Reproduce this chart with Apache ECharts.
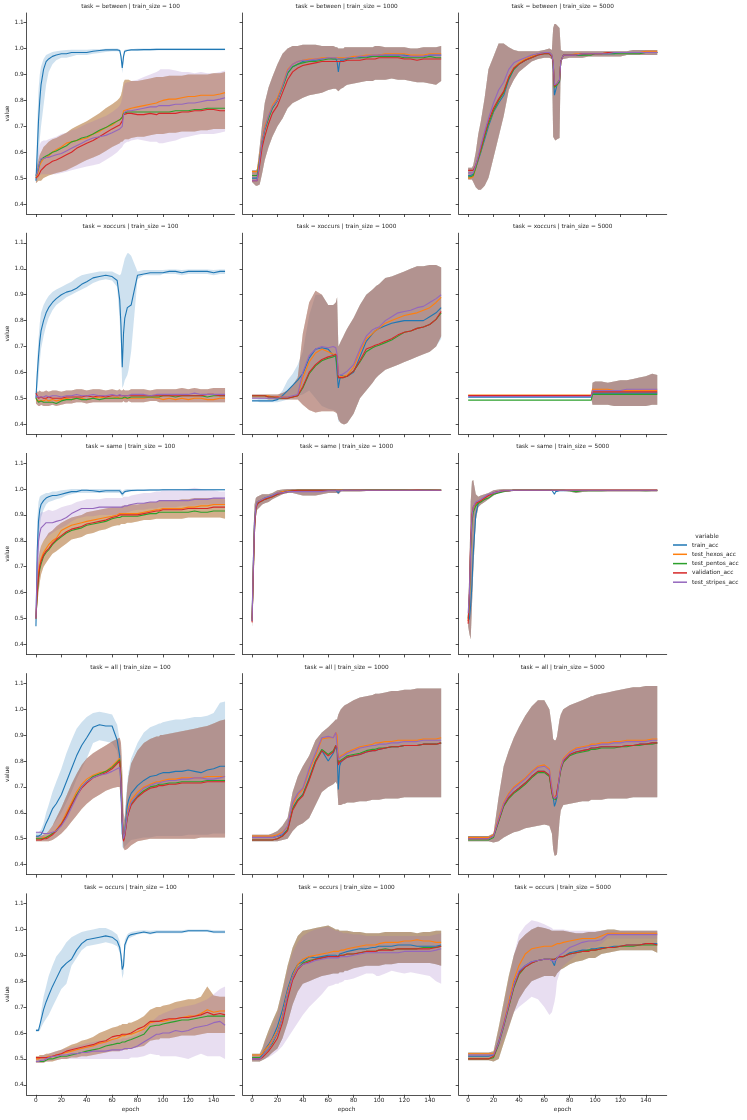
<!DOCTYPE html>
<html><head><meta charset="utf-8">
<script src="https://cdn.jsdelivr.net/npm/echarts@6/dist/echarts.min.js"></script>
<style>html,body{margin:0;padding:0;background:#fff}#c{width:747px;height:1120px}</style>
</head><body><div id="c"></div>
<script>
// ---------- shared scales / labels ----------
const EPOCHS = [0,1,2,3,4, 6,8,10, 13,16,20,24,28,32,36,40, 45,50,55,60, 64,66,67,68,69,70, 72,73,75, 80,85,90,95, 97,98,100, 105,110,115,120,125,130,135,140,145,149];
const X_TICKS = [0,20,40,60,80,100,120,140];
const Y_TICKS = [0.4,0.5,0.6,0.7,0.8,0.9,1.0,1.1];
const TASKS = ['between','xoccurs','same','all','occurs'];
const TRAIN_SIZES = [100,1000,5000];
const VARIABLES = ['train_acc','test_hexos_acc','test_pentos_acc','validation_acc','test_stripes_acc'];
const COLORS = ['#1f77b4','#ff7f0e','#2ca02c','#d62728','#9467bd'];

// ---------- values (accuracy, percent) ----------
// task = between, train_size = 100
const between_100_train = [49,60,72,80,86, 92,95,96, 97,97.5,98,98,98.5,98.5,98.5,98.5, 99,99.3,99.5,99.5, 99.5,99.3,97,92.5,97,99, 99.3,99.5,99.5, 99.5,99.6,99.6,99.7, 99.7,99.7,99.7, 99.7,99.7,99.7,99.7,99.7,99.7,99.7,99.7,99.7,99.7];
const between_100_trainLo = [48,52,58,65,70, 78,86,91, 94,95.5,96.5,96.5,97,97.5,97.5,97.5, 98,98.3,98.7,99, 99,98.8,95.5,90.5,95,98.5, 99,99.2,99.3, 99.3,99.3,99.3,99.3, 99.4,99.4,99.4, 99.4,99.4,99.4,99.4,99.4,99.4,99.4,99.4,99.4,99.4];
const between_100_trainHi = [50,70,84,90,93, 96,97.5,98, 98.7,99,99.3,99.5,99.6,99.6,99.6,99.6, 99.8,99.8,99.9,100, 100,99.8,98.5,94.5,98.8,99.6, 99.8,99.8,99.8, 100,100,100,100, 100,100,100, 100,100,100,100,100,100,100,100,100,100];
const between_100_hexos = [50,51,53,55,56, 57.5,58,58.5, 60,61,62,63.5,64,64.5,65,65.5, 67,68,69.5,70.5, 72,72.5,73,73.5,76,76.5, 76.5,77,77, 77.5,78,78.5,79, 79.5,79.5,80, 80.5,80.5,81,81.5,81.5,82,82,82,82.5,83];
const between_100_pentos = [51,52,54,56,57, 58,58.5,59, 60,60.5,61.5,62.5,64,64.5,65.5,66, 67,68.5,69.5,71, 72,72.5,73,73.5,75,75.5, 75.5,75.5,75.5, 75.5,75.5,75.5,75.5, 75.5,75.5,75.5, 75.5,76,76,76,76.5,76.5,77,77,77,77];
const between_100_val = [50,50.5,51,52,53, 54,55,55.5, 56.5,57,58,59,60,61.5,62.5,63.5, 64.5,66,67.5,69, 70,70.5,71,72,74.5,75, 75,75,75, 74.5,74.5,75,74.5, 75,75,75, 75,75,75.5,75.5,76,76,76.5,76.5,76,76];
const between_100_stripes = [51,52,54,56,57.5, 57.5,58,58, 58.5,59,59.5,60.5,61.5,62.5,63.5,64.5, 65.5,66,66.5,67.5, 68.5,69,69.5,70,74.5,75.5, 76,76,76, 76.5,77,77.5,77.5, 78,78,78, 78,78.5,78.5,79,79,79.5,80,80,80.5,81];
const between_100_testLo = [48,48.5,49,49,49, 50,50.5,51, 51.5,52,52.5,53,54,55,56,57, 58,59,60.5,62, 63,63.5,64,64,64.5,65, 65,65,65.5, 66,66,66.5,67, 67,67,67, 67.5,67.5,68,68,68,68.5,68.5,69,69,69];
const between_100_testHi = [52,55,57,59,60, 62,63,64, 65,65.5,66.5,67.5,69,70,71,72, 73.5,75,77,78.5, 80,81,82,84,87,88, 88,88,87.5, 87.5,88,88.5,89, 89,89,89, 89.5,89.5,89.5,90,90,90,90,90.5,90.5,91];
const between_100_stripesLo = [48,49,50,51,51.5, 51.5,51.5,51.5, 51.5,51.5,52,52.5,53,53.5,54,54.5, 55,55.5,57,58.5, 60,61,61.5,62,63,63.5, 64,64,64.5, 65,64.5,64,64, 63.5,63.5,63.5, 64,64.5,65.5,66,66.5,67,67,67,67.5,68];
const between_100_stripesHi = [53,56,60,63,64, 64.5,64.5,65, 65.5,66,67,67.5,68.5,69,70,71, 72,73,74,75.5, 77,78,79,81,85,86.5, 87,87,87.5, 88,89,90,91, 91.5,92,92, 92,91.5,91,91,90.5,91,90.5,90.5,91,91.5];

// task = between, train_size = 1000
const between_1000_train = [50,50,50,50,50, 57,64,69, 73.5,77,80,85.5,90.5,93,94,95, 95.5,95.5,96,96.5, 96,96,95,91,94.5,95.5, 95.5,95.5,96, 96.5,96.5,97,97, 97,97,97.5, 97.5,97.5,97.5,97.5,97,97,97,97.5,97.5,97.5];
const between_1000_hexos = [52.5,52.5,52.5,52.5,52.5, 58,65,70, 74,78,81,86,92,94,95,95.5, 96,96,96.5,96.5, 96.5,96.5,96.5,96.5,96.5,96.5, 96.5,96.5,96.5, 97,97,97.5,97.5, 97.5,97.5,97.5, 98,98,98,98,97.5,97.5,97.5,98,98,98];
const between_1000_pentos = [51,51,51,51,51, 57,64,68.5, 73,77,80,85,90.5,93,94,94.5, 95,95,95.5,96, 96,96,96,96,96,96, 96,96,96, 96.5,96.5,96.5,97, 97,97,97, 97,97,97,96.5,96.5,96.5,96.5,97,96.5,96.5];
const between_1000_val = [49,49,49,49,49, 55,62,66, 71,75,78,83,88,91,92.5,93.5, 94,94.5,95,95, 95,95,95,95,95,95, 95,95,95.5, 95.5,95.5,96,96, 96,96,96.5, 96.5,96.5,96.5,96,96,95.5,96,96,96,96];
const between_1000_stripes = [49,49,49,49,49, 57,64.5,69, 74,77.5,80,85.5,91.5,94,95,95.5, 95.5,96,96,96.5, 96.5,96.5,96,96,96,96, 96,96.5,96.5, 96.5,97,97,97.5, 97.5,97.5,97.5, 97.5,97.5,97.5,97,97,97,97,97.5,97.5,97.5];
const between_1000_testLo = [48.5,48,47.5,47,47, 47.5,52,57, 62,66,70,73,77,79,80,81, 82,82.5,83,84, 84.5,84.5,84,83.5,84,84.5, 85,85.5,86, 86.5,87,87.5,87.5, 88,88,88, 88,88.5,88,88,87.5,87,87,86.5,86,87.5];
const between_1000_testHi = [53,53,53,53,53.5, 62,71,79, 85,89,94,98,100,101,101,101.5, 101.5,101.5,101,101, 101,100.5,100.5,100,100,100, 100,100.5,100.5, 100.5,100.5,100.5,100.5, 101,101,101, 100.5,100.5,100.5,100.5,100,100,100.5,100.5,100.5,101];

// task = between, train_size = 5000
const between_5000_train = [51,51,51,51,51.5, 54,57,60, 65,70,75.5,79,82,88,92,94, 95.5,97,98,98.5, 98.5,97.5,94,82,84,86, 87,95,97.5, 97.5,97.5,97.5,98, 98,98,98, 98,98,98,98.5,98.5,98.5,98.5,98.5,98.5,98.5];
const between_5000_hexos = [50,50,50,50,50.5, 54,57.5,60.5, 66,71,76,80,83,89,92.5,94.5, 96,97,98,98.5, 98.5,97.5,95,85,85,86, 87.5,95,97.5, 97.5,98,98,98, 98,98,98, 98,98.5,98.5,98.5,98.5,98.5,98.5,99,99,99];
const between_5000_pentos = [50.5,50.5,50.5,50.5,51, 54,57.5,60.5, 66,71,76,80,83,88.5,92,94, 95.5,96.5,97.5,98, 98,97,94.5,85,85,86, 87.5,95,97.5, 97.5,97.5,97.5,97.5, 97.5,98,98, 98,98,98,98,98,98,98,98.5,98.5,98.5];
const between_5000_val = [53,53,53,53,53, 55,58,61.5, 67,72,77,80.5,83.5,89,92.5,94, 95.5,96.5,97.5,98, 98,97,94.5,85.5,85.5,86.5, 88,95,97.5, 97.5,97.5,98,98, 98,98,98, 98,98.5,98.5,98.5,98.5,98.5,98.5,98.5,98.5,98.5];
const between_5000_stripes = [52,52,52,52,52, 55,58.5,62.5, 68,73,79,84,87,92,94.5,95.5, 96.5,97.5,98,98.5, 98.5,97.5,95,86,86,86.5, 88,95,97.5, 97.5,97.5,98,98, 98,98,98, 98,98,98.5,98.5,98.5,98.5,98.5,98.5,98.5,98.5];
const between_5000_testLo = [49.5,49.5,49.5,49.5,48.5, 46.5,45.5,45.5, 47,50,58,66,74,84,88,91, 93,95,96,96.5, 96.5,96,66,65,64.5,65, 65.5,96,96, 96.5,96.5,96.5,97, 97,97,97, 97,97,97,97,97.5,97.5,97.5,97.5,97.5,97.5];
const between_5000_testHi = [54,54,54,54,55, 60,67,72, 81,92,97,102,102,100.5,99.5,99, 99,99,99,99.5, 100,99.5,108,109.5,109.5,109, 108,99.5,99, 99,99,99,99, 99,99,99, 99,99,99,99,99,99.5,99.5,99.5,99.5,99.5];

// task = xoccurs, train_size = 100
const xoccurs_100_train = [50,59,66,72,76, 80,83,85, 87,88.5,90,91,91.5,92.5,94,95, 96.5,97,97.5,97, 95.5,88,78,62,75,81, 85,85.5,86, 97.5,98,98.5,98.5, 98.5,98.5,98.5, 99,99,98.5,99,99,99,99,98.5,99,99];
const xoccurs_100_trainLo = [49,53,58,64,69, 74,78,81, 84,86,87.5,89,90,91,92,93, 94.5,95.5,96,95.5, 93,80,70,54,55,57, 59,61,68, 96,97.5,97.5,97.5, 97.5,97.5,98, 98,98,97.5,98,98,98,98,97.5,98,98];
const xoccurs_100_trainHi = [51,65,73,79,83, 86,88,89.5, 91,92,93,94,95,96.5,97.5,98, 98.5,99,99,99, 98,97.5,98,100,102,104, 106,106,105, 99,99.5,99.5,99.5, 99.5,99.5,99.5, 99.7,99.7,99.5,99.7,99.7,99.7,99.7,99.5,99.7,99.7];
const xoccurs_100_hexos = [50,49,48.5,49,49.5, 49,49.5,49, 49.5,49,49.5,50,49.5,50,50,49.5, 50,50.5,50,50, 50.5,50,50,50,50.5,50, 50,50.5,50, 50,50,50.5,50, 50,50,49.5, 50,49.5,50,49.5,50,50,49.5,49.5,50,50];
const xoccurs_100_pentos = [50,49.5,48.5,48.5,49, 48.5,48.5,48.5, 48.5,48,49,49.5,49.5,50,49.5,49.5, 50,49.5,50,50, 50,50,50.5,50,50,50.5, 50,50,50.5, 50.5,50.5,50.5,50.5, 50.5,50.5,51, 51,50.5,51,51,51,51,50.5,51,51,51];
const xoccurs_100_val = [52,51,50,50,50.5, 50,50,50.5, 50,50,50,50.5,50.5,50.5,50.5,51, 50.5,51,50.5,51, 51,51,51,51,50.5,51, 51,51,51, 51,51,51,51, 51,51,51, 51,51,51,51,51,51,51.5,51.5,51,51];
const xoccurs_100_stripes = [51,50.5,50.5,51,50.5, 50.5,51,50.5, 51,51,50.5,51,51,51.5,51,51, 51.5,51,51,51.5, 51,51.5,51,51,51.5,51, 51,51,51.5, 51.5,51.5,51,51.5, 51.5,51.5,51.5, 51.5,51.5,51.5,51.5,52,51.5,51.5,51.5,51.5,51.5];
const xoccurs_100_testLo = [48,47.5,47,47,47.5, 47,47,47, 47.5,47,47.5,48,48,48.5,48.5,48, 48.5,48.5,48.5,48.5, 48.5,48.5,48.5,48.5,49,48.5, 48.5,49,48.5, 48.5,48.5,49,49, 48.5,48.5,48.5, 48.5,48.5,48.5,48.5,48.5,48.5,48.5,48.5,48.5,48.5];
const xoccurs_100_testHi = [53,52.5,52.5,53,52.5, 52.5,53,52.5, 53,53,52.5,53,53,53.5,53.5,53, 53.5,53.5,53,53.5, 53,53.5,53,53,53.5,53, 53,53,53.5, 53.5,53.5,53,53.5, 53.5,53.5,53.5, 53.5,53.5,54,53.5,54,53.5,53.5,54,54,54];

// task = xoccurs, train_size = 1000
const xoccurs_1000_train = [49,49,49,49,49, 49,49,49, 49,49,49.5,51,53,55,57,59.5, 65.5,69,69.5,69, 66.5,66,65.5,54,57,59, 58.5,58.5,58.5, 60,66,72,75, 76,76.5,77, 78,79,79.5,80,80,80,80,81.5,83,85];
const xoccurs_1000_hexos = [51,51,51,51,51, 51,51,51, 51,50.5,50.5,50.5,50.5,50.5,51,58, 64,67.5,69,68, 67,67,66,58,58.5,58.5, 58.5,58.5,59, 62,68,73,75, 76,76.5,77, 79,80,81,82,82.5,83,84,85,87,89];
const xoccurs_1000_pentos = [51,51,51,51,51, 51,51,51, 50.5,50.5,50,50,50,50.5,51,54, 59.5,62.5,64.5,65.5, 66,66.5,66,58,58,58, 58,58.5,58.5, 60.5,64,68,69.5, 70,70.5,70.5, 71.5,72.5,74,75.5,76,77,77.5,78.5,80.5,83];
const xoccurs_1000_val = [51,51,51,51,51, 51,51,51, 50.5,50.5,50.5,50,50,50.5,51,54.5, 60,63,65,66, 66.5,67,66,58,58,58, 58,58,58.5, 60.5,64.5,69,70, 70.5,71,71, 72,73,74.5,75.5,76,77,77.5,78.5,80.5,83.5];
const xoccurs_1000_stripes = [50,50,50,50,50, 50,50,50, 50,50,50,50.5,50.5,51,51.5,60, 66.5,69,70,69.5, 70,69.5,67,59,59,59, 59.5,60,60.5, 63,69,74,76.5, 77,77,77.5, 80,81.5,83,83.5,84,85,85.5,87,88.5,90];
const xoccurs_1000_testLo = [50,50,50,50,50, 50,50,50, 49.5,49.5,49.5,49.5,49.5,49.5,49.5,47.5, 45.5,44.5,45,45, 45,44.5,44,42,41,40.5, 40,40,40.5, 44,50,53,56, 57.5,58,59, 61,62,63,64,65,66,67,68,70,74];
const xoccurs_1000_testHi = [51.5,51.5,51.5,51.5,51.5, 51.5,51.5,51.5, 51.5,51.5,51.5,52,53,55,58,75, 87,91.5,90,86, 86,87,89,70,71,72, 74,75,77, 81,86,90,92, 93,93.5,94, 96.5,97,98,99,100,101,101,101.5,101.5,100.5];
const xoccurs_1000_trainLo = [49,49,49,49,49, 48.5,48.5,48.5, 48.5,48.5,48.5,49,49.5,50.5,51,51.5, 53,50,47,46, 45.5,45,44,41,41,40.5, 40,40,40.5, 44,50,53,56, 57.5,58,59, 61,62,63,64,65,66,67,68,70,73];
const xoccurs_1000_trainHi = [49.5,49.5,49.5,49.5,49.5, 50,50,50, 50,50,50.5,53,57,59.5,63,68, 82,90,90,86, 86,87,89,70,71,72, 74,75,77, 81,86,90,92, 93,93.5,94, 96.5,97,98,99,100,101,101,101.5,101.5,100.5];

// task = xoccurs, train_size = 5000
const xoccurs_5000_train = [50.4,50.4,50.4,50.4,50.4, 50.4,50.4,50.4, 50.4,50.4,50.4,50.4,50.4,50.4,50.4,50.4, 50.4,50.4,50.4,50.4, 50.4,50.4,50.4,50.4,50.4,50.4, 50.4,50.4,50.4, 50.4,50.4,50.4,50.4, 50.4,52,52, 52,52,52,52,52,52,52,52,52,52];
const xoccurs_5000_hexos = [51.3,51.3,51.3,51.3,51.3, 51.3,51.3,51.3, 51.3,51.3,51.3,51.3,51.3,51.3,51.3,51.3, 51.3,51.3,51.3,51.3, 51.3,51.3,51.3,51.3,51.3,51.3, 51.3,51.3,51.3, 51.3,51.3,51.3,51.3, 51.3,53.5,53.5, 53.5,53.5,53,53,53,53,53,53,53,53];
const xoccurs_5000_pentos = [49.3,49.3,49.3,49.3,49.3, 49.3,49.3,49.3, 49.3,49.3,49.3,49.3,49.3,49.3,49.3,49.3, 49.3,49.3,49.3,49.3, 49.3,49.3,49.3,49.3,49.3,49.3, 49.3,49.3,49.3, 49.3,49.3,49.3,49.3, 49.3,51.5,51.5, 51.5,51.5,51.5,51.5,51.5,51.5,51.5,51.5,51.5,51.5];
const xoccurs_5000_val = [51.1,51.1,51.1,51.1,51.1, 51.1,51.1,51.1, 51.1,51.1,51.1,51.1,51.1,51.1,51.1,51.1, 51.1,51.1,51.1,51.1, 51.1,51.1,51.1,51.1,51.1,51.1, 51.1,51.1,51.1, 51.1,51.1,51.1,51.1, 51.1,52.5,52.5, 52.5,52.5,52.5,52.5,52.5,52.5,52.5,52.5,52.5,52.5];
const xoccurs_5000_stripes = [50.7,50.7,50.7,50.7,50.7, 50.7,50.7,50.7, 50.7,50.7,50.7,50.7,50.7,50.7,50.7,50.7, 50.7,50.7,50.7,50.7, 50.7,50.7,50.7,50.7,50.7,50.7, 50.7,50.7,50.7, 50.7,50.7,50.7,50.7, 50.7,53,53, 53,53,53,53,53.5,53.5,53.5,53.5,53.5,53.5];
const xoccurs_5000_testLo = [50,50,50,50,50, 50,50,50, 50,50,50,50,50,50,50,50, 50,50,50,50, 50,50,50,50,50,50, 50,50,50, 50,50,50,50, 50,47.5,47.5, 47.5,47.5,47,47,47,47,47,47,47.5,47.5];
const xoccurs_5000_testHi = [50,50,50,50,50, 50,50,50, 50,50,50,50,50,50,50,50, 50,50,50,50, 50,50,50,50,50,50, 50,50,50, 50,50,50,50, 50,56,56.5, 56.5,56,56.5,57,57,57.5,58,58.5,59.5,59];

// task = same, train_size = 100
const same_100_train = [47,76,87.5,92,94, 95.5,96.5,97, 97.5,97.5,98,98.5,99,99,99.5,99.5, 99.3,99,99.3,99.3, 99.3,99.3,99,98,98.5,99, 99.2,99.3,99.4, 99.5,99.5,99.6,99.6, 99.6,99.6,99.7, 99.7,99.7,99.7,99.7,99.7,99.7,99.7,99.7,99.7,99.7];
const same_100_trainLo = [47,60,75,85,89, 92,94,95, 95.5,96,96.5,97.5,98,98.5,98.5,98.5, 98.5,98.5,98.5,98.5, 98.5,98.5,98,97,97.5,98.5, 98.8,99,99, 99.2,99.2,99.2,99.2, 99.3,99.3,99.3, 99.4,99.4,99.4,99.4,99.4,99.4,99.4,99.4,99.4,99.4];
const same_100_trainHi = [47.5,88,95,97,97.5, 98,98.5,98.5, 99,99,99.5,99.7,100,100,100,100, 100,100,100,100, 100,100,99.8,99,99.5,99.8, 100,100,100, 100,100,100,100, 100,100,100, 100,100,100,100,100,100,100,100,100,100];
const same_100_hexos = [50,62,68,71,73, 75.5,77,78.5, 80,81,84,85,86,86.5,87,87.5, 88,88.5,89,89.5, 90,90.5,90.5,90.5,90.5,90.5, 90.5,90.5,90.5, 90.5,91,91.5,92, 92,92,92.5, 92.5,92.5,92.5,93,93,93.5,93.5,94,94,94];
const same_100_pentos = [50,59,65,69,71, 74,75.5,76.5, 78.5,80,81.5,83,84,84.5,85,86, 86.5,87,87.5,88.5, 89,89,89.5,89.5,89.5,89.5, 89.5,89.5,89.5, 89.5,90,90.5,90.5, 91,91,91, 91,91,91,91,91.5,91,91,91.5,91.5,91.5];
const same_100_val = [50,60,66,70,72, 74.5,76,77, 79,80.5,82,83.5,84.5,85,85.5,86.5, 87,87.5,88,89, 89.5,90,90,90,90,90, 90,90,90, 90,90.5,91,91.5, 91.5,91.5,92, 92,92,92,92.5,92.5,92.5,92.5,93,93,93];
const same_100_stripes = [50,70,80,83,85, 86,87,87, 87,87.5,88,89,90.5,91.5,92.5,92.5, 92.5,93,93,93, 93,93,93,93,93.5,93.5, 93.5,93.5,94, 94.5,94.5,95,95, 95.5,95.5,95.5, 95.5,95.5,95.5,95.5,96,96,96,96.5,96.5,96.5];
const same_100_testLo = [49,55,60,64,67, 70,71.5,73, 75,76,77.5,79,80.5,81,81.5,82.5, 83,84,84.5,85.5, 86,86,86.5,86.5,86.5,86.5, 87,87,87, 87.5,88,88,88.5, 88.5,88.5,88.5, 88.5,88.5,88.5,89,89,89,89,89,89,88.5];
const same_100_testHi = [51,66,73,76,78, 80,81.5,83, 84,85.5,87,88,89,89.5,90,91, 91.5,92,92.5,93, 93,93,93,93.5,93.5,93.5, 93.5,94,94, 94,94.5,95,95, 95.5,95.5,95.5, 95.5,95.5,96,96,96.5,96.5,96.5,96.5,96.5,96];
const same_100_stripesLo = [49,60,68,74,78, 80,81,82, 83,84,85,86,87.5,88.5,89,89.5, 89.5,90,90,90, 90,90,90,90,90.5,90.5, 91,91,91.5, 92,92,92.5,92.5, 93,93,93, 93,93,93.5,93.5,93.5,94,94,94,94,94];
const same_100_stripesHi = [51,80,88,90,91, 91,91.5,92, 91.5,92,93,93.5,94,95,95.5,96, 96,96,96.5,96.5, 96.5,96.5,96.5,96.5,97,97, 97,97,97.5, 98,98.5,98.5,99, 99,99,99.5, 99.5,99.5,99.5,100,100.5,100,99.5,99.5,99,99];

// task = same, train_size = 1000
const same_1000_train = [50,72,88,93,95, 95.5,96,96.5, 97,97.5,98.5,99,99.3,99.5,99.5,99.5, 99.5,99.5,99.5,99.5, 99.5,99.5,99.3,98.5,99.3,99.5, 99.5,99.5,99.5, 99.6,99.6,99.6,99.6, 99.6,99.6,99.6, 99.6,99.6,99.6,99.6,99.6,99.6,99.6,99.6,99.6,99.6];
const same_1000_hexos = [49.5,70,87,93,95, 95.5,96,96, 96.5,97,98.5,99,99.3,99.5,99.5,99.5, 99.5,99.5,99.5,99.5, 99.5,99.5,99.5,99.5,99.5,99.5, 99.5,99.5,99.5, 99.6,99.6,99.6,99.6, 99.6,99.6,99.6, 99.6,99.6,99.6,99.6,99.6,99.6,99.6,99.6,99.6,99.6];
const same_1000_pentos = [49,68,86,92.5,94.5, 95,95.5,96, 96.5,97,98,98.5,99,99.3,99.5,99.5, 99.5,99.5,99.5,99.5, 99.5,99.5,99.5,99.5,99.5,99.5, 99.5,99.5,99.5, 99.5,99.5,99.6,99.6, 99.6,99.6,99.6, 99.6,99.6,99.6,99.6,99.5,99.5,99.6,99.6,99.5,99.5];
const same_1000_val = [48.5,67,85,92,94, 95,95.5,96, 96.5,97,98,98.5,99,99.3,99.5,99.5, 99.5,99.5,99.5,99.5, 99.5,99.5,99.5,99.5,99.5,99.5, 99.5,99.5,99.5, 99.5,99.5,99.5,99.5, 99.5,99.5,99.5, 99.5,99.5,99.5,99.5,99.5,99.6,99.5,99.5,99.5,99.4];
const same_1000_stripes = [49,70,87,93,95, 95.5,96,96.5, 97,97.5,98.5,98.5,99,99,99,99, 99,99,99,99.3, 99.3,99.3,99.3,99.3,99.3,99.3, 99.5,99.5,99.5, 99.5,99.5,99.5,99.5, 99.5,99.5,99.5, 99.5,99.5,99.5,99.5,99.5,99.5,99.5,99.5,99.5,99.5];
const same_1000_testLo = [46.5,58,80,89,92, 93,94,94.5, 95,96,97,98,98.5,98.5,98,97.5, 97.5,97.5,98,98.5, 98.5,98.5,98.5,98,98.5,99, 99,99,99, 99,99,99.2,99.2, 99.2,99.2,99.2, 99.2,99.2,99.2,99.2,99.2,99.2,99.2,99.2,99.2,99.2];
const same_1000_testHi = [52,82,94,96.5,97, 97.5,98,98, 98,98.5,99.5,99.8,100,100,100,100, 100,100,100,100, 100,100,100,100,100,100, 100,100,100, 100,100,100,100, 100,100,100, 100,100,100,100,100,100,100,100,100,100];

// task = same, train_size = 5000
const same_5000_train = [49,50,55,63,75, 90,94.5,95.5, 96.5,97.5,98.5,99,99.3,99.3,99.5,99.5, 99.5,99.5,99.5,99.5, 99.5,99.5,99.3,98,99,99.3, 99.3,99.3,99.3, 99.4,99.4,99.4,99.4, 99.4,99.4,99.4, 99.4,99.4,99.4,99.4,99.4,99.4,99.4,99.4,99.4,99.4];
const same_5000_hexos = [49,58,78,88,92, 94,95,95.5, 96.5,97.5,98.5,99,99.3,99.3,99.5,99.5, 99.5,99.5,99.5,99.5, 99.5,99.5,99.5,99.5,99.5,99.5, 99.5,99.5,99.5, 99.5,99.5,99.5,99.5, 99.5,99.5,99.5, 99.5,99.5,99.5,99.5,99.5,99.5,99.5,99.5,99.5,99.5];
const same_5000_pentos = [50,58,77,87,91, 93.5,94.5,95, 96,96.5,98,98.5,99,99.3,99.5,99.5, 99.5,99.5,99.5,99.5, 99.5,99.5,99.5,99.5,99.5,99.5, 99.5,99.5,99.5, 99.3,99,99.3,99.3, 99.3,99.3,99.3, 99.3,99.4,99.4,99.4,99.4,99.4,99.4,99.3,99.4,99.4];
const same_5000_val = [48,60,80,90,93, 94.5,95,95.5, 96.5,97.5,98.5,99,99.3,99.3,99.5,99.5, 99.5,99.5,99.5,99.5, 99.5,99.5,99.5,99.5,99.5,99.5, 99.5,99.5,99.5, 99.5,99.5,99.5,99.5, 99.5,99.5,99.5, 99.5,99.5,99.5,99.5,99.5,99.5,99.5,99.5,99.5,99.5];
const same_5000_stripes = [52,60,79,89,93, 95,95.5,96, 97,98,98.5,99,99.3,99.3,99.5,99.5, 99.5,99.5,99.5,99.5, 99.5,99.5,99.5,99.5,99.5,99.5, 99.5,99.5,99.5, 99.5,99.5,99.5,99.5, 99.5,99.5,99.5, 99.5,99.5,99.5,99.5,99.5,99.5,99.5,99.5,99.5,99.5];
const same_5000_testLo = [47,44,42,55,68, 88,93,94, 95,96,97.5,98.5,99,99,99.2,99.2, 99.2,99.2,99.2,99.2, 99.2,99.2,99.2,99.2,99.2,99.2, 99.2,99.2,99.2, 99,98.5,98.8,99, 99,99,99, 99,99,99,99,99,99,99,99,99,99];
const same_5000_testHi = [53,70,95,103,103.5, 98,97,97.5, 98,98.5,99.5,99.8,100,100,100,100, 100,100,100,100, 100,100,100,100,100,100, 100,100,100, 100,100,100,100, 100,100,100, 100,100,100,100,100,100,100,100,100,100];

// task = all, train_size = 100
const all_100_train = [51,51,51,51,51.5, 53.5,56,58, 61.5,63.5,67,72,77,82,86,89, 93,94,93.5,93.5, 88,82,68,52,49.5,53, 63,65,67.5, 70.5,72.5,74,74.5, 75,75,75.5, 75.5,76,76,76.5,76,75.5,76.5,77,78,78];
const all_100_trainLo = [50,50,50,50,50, 51,52,53, 55,57,60,64,68,73,77,81, 87,88,87.5,87, 84,76,63,47,46,47, 48,48.5,49.5, 50,50.5,50.5,51, 51,51,51, 51,51,51,51.5,51.5,51.5,51.5,52,52,52];
const all_100_trainHi = [52.5,52.5,52.5,53,53.5, 56,60,63, 68,72,77,83,88,92.5,95,97, 98.5,99,98.5,98, 94,88,79,62,55,60, 72,76,81, 87,91,93,94, 94.5,94.5,95, 95.5,96,96,96.5,97,97,97.5,98.5,102.5,103];
const all_100_hexos = [50,50,50,50,50, 50.5,50.5,51, 52,53.5,56,60,64,68,71,73, 74.5,75.5,76,78, 80,81,74,58,49.5,52, 60,62,65, 68,70,71,72, 72,72.5,72.5, 73,73,73.5,73.5,73.5,73.5,74,74,74,74];
const all_100_pentos = [50,50,50,50,50, 50,50.5,51, 52,53,55.5,59,63,67,70,72, 74,75,76,77.5, 79.5,80.5,74,58,49.5,51.5, 58.5,60.5,63.5, 66.5,68.5,70,70.5, 71,71,71, 71.5,71.5,72,72,72,72,72.5,72.5,72.5,72.5];
const all_100_val = [49.5,49.5,49.5,49.5,49.5, 50,50,50.5, 51.5,53,55.5,59,63,66.5,69.5,71.5, 73.5,74.5,75.5,77, 79,80,73,57,49,51, 58,60,63, 66,68,69.5,70, 70.5,70.5,70.5, 71,71,71.5,71.5,71.5,71.5,72,72,72,72];
const all_100_stripes = [52.5,52.5,52.5,52.5,52.5, 52,52,52, 52.5,53,55,58,62,66,70,72, 73.5,74.5,75,76, 77,77.5,72,57,50,52, 59,61,64, 67,69.5,70.5,71.5, 71.5,72,72, 72.5,72.5,73,73,73.5,73.5,73,73,73.5,74];
const all_100_testLo = [49,49,49,49,49, 49,49,49, 49.5,50.5,52,54,56.5,59,61.5,63.5, 65.5,67,68.5,69.5, 70,70,64,52,46.5,45.5, 46,46.5,47.5, 49,49.5,50,50, 50,50,50, 50,50,50,50,50,50.5,50.5,50.5,50.5,50.5];
const all_100_testHi = [51,51,51,51,51, 51.5,52,53, 55,58,62,66.5,71,75,78.5,81, 83,84.5,86,87.5, 88.5,89,87,76,60,57, 70,74,79, 84,87,88.5,89.5, 89.5,90,90, 90.5,91,91.5,92,92.5,93,93.5,94.5,95.5,96];

// task = all, train_size = 1000
const all_1000_train = [50.5,50.5,50.5,50.5,50.5, 50.5,50.5,50.5, 50.5,50.5,51,51.5,53.5,62,65,67, 73.5,80,84,80, 83,85.5,84,69,78,79.5, 80.5,81,81.5, 82,82.5,83.5,84, 84,84.5,84.5, 85,85.5,85.5,86,86,86,86.5,86.5,86.5,87];
const all_1000_hexos = [51,51,51,51,51, 51,51,51, 51,51,51.5,52.5,54.5,63,67,69, 76,82,88.5,89, 89,91,90,81,81.5,82, 82.5,83,83.5, 84.5,85.5,86,86.5, 87,87,87, 87.5,87.5,88,88,88,88,88.5,88.5,88.5,89];
const all_1000_pentos = [49.5,49.5,49.5,49.5,49.5, 49.5,49.5,49.5, 49.5,49.5,50,51,53.5,61.5,65,67, 73,80,84.5,82.5, 84,86,85,79,80,80.5, 81,81.5,82, 82.5,83,84,84.5, 84.5,84.5,85, 85,85.5,85.5,86,86,86,86.5,86.5,86.5,87];
const all_1000_val = [49.5,49.5,49.5,49.5,49.5, 49.5,49.5,49.5, 49.5,49.5,50,51,53,61,64.5,66.5, 72.5,79.5,84,82, 83.5,86,85,78.5,79.5,80, 80.5,81,81.5, 82,82.5,83.5,84, 84,84.5,84.5, 85,85.5,85.5,86,86,86,86.5,86.5,86.5,87];
const all_1000_stripes = [50.5,50.5,50.5,50.5,50.5, 50.5,50.5,50.5, 50.5,50.5,51,52,55,64,67.5,69.5, 77,83,89,89.5, 89,91,90.5,80.5,81,81.5, 82,82.5,83, 84,85,85.5,86, 86,86.5,86.5, 86.5,87,87,87.5,87.5,87.5,88,88,88,88];
const all_1000_testLo = [49,49,49,49,49, 49,49,49, 49,49,49,49.5,50,53,55,56, 58,63,68,70, 71,72,71,63,63,63, 63.5,63.5,64, 64,64.5,64.5,65, 65,65,65, 65.5,65.5,65.5,66,66,66,66,66,66,66];
const all_1000_testHi = [51.5,51.5,51.5,51.5,51.5, 51.5,51.5,51.5, 51.5,52,53,55,58,68,74,78, 82,88,91,93, 95,96,96,98,99,100, 101,101.5,102, 103.5,104.5,105,105.5, 106,106,106, 106.5,107,107,107.5,107.5,108,108,108,108,108];

// task = all, train_size = 5000
const all_5000_train = [50.5,50.5,50.5,50.5,50.5, 50.5,50.5,50.5, 50.5,50.5,51,57,63,66,68,69.5, 71.5,74,76,76, 74.5,68,66,62.5,64,66, 74,77,80, 82.5,83.5,84,84.5, 85,85,85, 85.5,85.5,85.5,85.5,86,86,86.5,86.5,87,87];
const all_5000_hexos = [50.5,50.5,50.5,50.5,50.5, 50.5,50.5,50.5, 50.5,50.5,51.5,58,64,67.5,70,71.5, 73.5,76,78,78.5, 77,70,67,66,66,67, 75,78,81, 83.5,85,85.5,86, 86.5,86.5,86.5, 87,87,87.5,87.5,88,88,88,88,88.5,88.5];
const all_5000_pentos = [49.5,49.5,49.5,49.5,49.5, 49.5,49.5,49.5, 49.5,49.5,50.5,56.5,62.5,65.5,67.5,69, 71,73.5,75.5,75.5, 74,67.5,65.5,65,65,65.5, 73.5,76.5,79.5, 82,83,83.5,84, 84.5,84.5,84.5, 85,85,85,85.5,85.5,86,86,86.5,86.5,87];
const all_5000_val = [50,50,50,50,50, 50,50,50, 50,50,51,57,63,66,68,69.5, 71.5,74,76,76, 74.5,68,66,65.5,65.5,66, 74,77,80, 82.5,83.5,84,84.5, 85,85,85, 85.5,85.5,85.5,85.5,86,86,86.5,86.5,87,87];
const all_5000_stripes = [50,50,50,50,50, 50,50,50, 50,50,51,57.5,63.5,67,69.5,71, 73,75.5,77.5,78, 76.5,69.5,66.5,65.5,65.5,66.5, 74.5,77.5,80.5, 83,84.5,85,85.5, 86,86,86, 86.5,86.5,87,87,87.5,87.5,87.5,87.5,88,88];
const all_5000_testLo = [49,49,49,49,49, 49,49,49, 49,49,48.5,49,50.5,51.5,52.5,53, 54,54.5,55,55.5, 55,52,46,43.5,43.5,44, 57,61,63, 63.5,64,64.5,64.5, 65,65,65, 65,65.5,65.5,65.5,65.5,66,66,66,66,66];
const all_5000_testHi = [51,51,51,51,51, 51,51,51, 51,51,52,66,78,84,89,93, 97.5,101,103.5,103.5, 100,93,88.5,88,88,89.5, 96,98,100, 101.5,102.5,103.5,104.5, 105,105,105.5, 106,106.5,107,107.5,108,108.5,108.5,109,109,109];

// task = occurs, train_size = 100
const occurs_100_train = [61,61,61,61.5,65, 69,72,74.5, 78,81,85,87,88.5,92,94.5,96, 96.5,97,97.5,97, 95.5,93,90,84.5,86,94, 96.5,97.5,98, 98.5,99,98.5,99, 99,99,99, 99,99,99,99.5,99.5,99.5,99.5,99,99,99];
const occurs_100_trainLo = [60.5,60.5,60.5,61,62, 64,65.5,67, 70,73,77,79,86,89,92,93.5, 94,94.5,95,94.5, 93.5,91,87,81,83,91.5, 95.5,96.5,97, 98,98.5,98,98.5, 98.5,98.5,98.5, 98.5,98.5,98.5,99,99,99,99,98.5,98.5,98.5];
const occurs_100_trainHi = [61.5,61.5,61.5,62.5,68, 74,78,82, 86,89.5,92,95,97,98,99,99.5, 100,100.5,100.5,99.5, 98,95.5,92.5,88,89.5,96, 98,98.5,99, 99.5,99.7,99.5,99.7, 99.7,99.7,99.7, 99.7,99.7,99.7,100,100,100,100,99.7,99.7,99.7];
const occurs_100_hexos = [50,50,50,50.5,50.5, 50.5,50.5,51, 51,51.5,52,52.5,53,53.5,54,54.5, 55,56,56.5,57.5, 58,58.5,58.5,59,59,59, 59.5,59.5,59.5, 60.5,61.5,64,64.5, 64.5,64.5,64.5, 65,65.5,66,66.5,66.5,67.5,69,68,68.5,68.5];
const occurs_100_pentos = [49,49,49,49,49, 49,49.5,50, 50,50.5,51,51,51.5,52,52.5,53, 53.5,54,55,55.5, 56,56,56.5,56.5,56.5,56.5, 57,57,57.5, 58.5,59.5,62.5,63, 63,63,63.5, 64,64.5,65,65,65.5,66,66.5,66.5,66.5,66.5];
const occurs_100_val = [50.5,50.5,50.5,50.5,50.5, 50.5,50.5,50.5, 51,51.5,52,53,53.5,54,54.5,55, 55.5,56.5,57,58.5, 59,59,59,59.5,59.5,59.5, 59.5,60,60, 61.5,62.5,64.5,64.5, 64.5,64.5,65, 65.5,65.5,66,66,66.5,67,68,67,67.5,67];
const occurs_100_stripes = [49,49,49,49.5,49.5, 49.5,50,50.5, 51,51,51.5,51.5,52,52,52.5,52.5, 53,53,53,53.5, 53.5,53.5,53.5,53.5,54,54, 54,54,54, 55,56.5,58,59.5, 59.5,60,60, 60,61,60.5,61,62,62.5,63,64,64.5,63];
const occurs_100_testLo = [48.5,48.5,48.5,48.5,48.5, 48.5,49,49, 49,49.5,50,50,50.5,50.5,51,51, 51.5,52,52.5,53, 53,53,53.5,53.5,53.5,53.5, 53.5,54,54, 54.5,55,57,57.5, 57.5,58,58, 58,58.5,59,59,59,59.5,60,60,60,60];
const occurs_100_testHi = [51,51,51,51.5,51.5, 51.5,52,52, 52.5,53,53.5,54.5,55.5,56,57,57.5, 58.5,60,61,62, 62.5,63,63,63.5,63.5,63.5, 63.5,64,64, 65,66.5,69,70, 70,70,70.5, 71,72,72.5,73,73,74,78,74.5,74,74];
const occurs_100_stripesLo = [48.5,48.5,48.5,48.5,48.5, 48.5,49,49, 49.5,49.5,50,50,50,50,50,50, 50,50,50,50, 50,50,50,50,50,50, 50,50,50.5, 50.5,51,52,51.5, 51.5,51,51, 51,51,50.5,50,51,52,51,51,51,50];
const occurs_100_stripesHi = [50,50,50,50.5,51, 51.5,51.5,52, 52.5,53,53.5,54,54.5,55,55.5,56, 56.5,57,57,57.5, 57.5,57.5,57.5,58,58,58, 58,58.5,58.5, 59.5,61.5,64,66, 67,67,67.5, 68.5,69.5,70,70.5,71,72,73,75,77,78];

// task = occurs, train_size = 1000
const occurs_1000_train = [50,50,50,50,50, 50,51.5,53.5, 55.5,58,62.5,69,77,83,86.5,87.5, 89.5,89,89.5,90, 90,90,90,89.5,90.5,90.5, 91,91,91.5, 92,92.5,92.5,93, 93,93.5,93.5, 93.5,93.5,94,94,94,93.5,93.5,93.5,93.5,94];
const occurs_1000_hexos = [51.5,51.5,51.5,51.5,51.5, 51.5,52,53.5, 55,57.5,61,67,76,82,86.5,88.5, 89.5,90,90.5,91, 91.5,91.5,91.5,91.5,91.5,92, 92,92,92.5, 93,93.5,94,94, 94,94.5,94.5, 95,95,95,95.5,95.5,96,95.5,95.5,95,95];
const occurs_1000_pentos = [50.5,50.5,50.5,50.5,50.5, 50.5,51,52.5, 54,56,60,66,74.5,81.5,85,87, 88,88.5,89,89.5, 89.5,89.5,89.5,89.5,89.5,90, 90,90,90.5, 90.5,91,91.5,91.5, 91.5,92,92, 92.5,92,92.5,92.5,92.5,92.5,93,93,93,93.5];
const occurs_1000_val = [50,50,50,50,50, 50,50.5,51.5, 53,55,58,64,73,80.5,84.5,86.5, 87.5,88.5,89,89.5, 89.5,89.5,89.5,89.5,89.5,90, 90,90,90.5, 90.5,91,91.5,91.5, 91.5,92,92, 92,92,92.5,92.5,92.5,92.5,92.5,92.5,93,93.5];
const occurs_1000_stripes = [50,50,50,50,50, 50,51,52.5, 54,56.5,60,66,75,81.5,85,86.5, 87,88,88.5,89, 89,89,89,89,89.5,89.5, 89.5,89.5,89.5, 90,90.5,91,91, 91,91,91, 91,91,91,91.5,91.5,91.5,91.5,91.5,92,92.5];
const occurs_1000_testLo = [49,49,49,49,49, 49,49.5,50, 51,52.5,54,58,64,71,76,79, 80,81,82,82.5, 83,83,83,83,83.5,83.5, 83.5,84,84, 85,85.5,86,86, 86,86,86, 86.5,86.5,87,87,87,87,87,87,86.5,86];
const occurs_1000_testHi = [52,52,52,52,52, 52,54,57, 61,64.5,69,77,86,93,97.5,99.5, 100,100.5,101,101.5, 100.5,100,100,100,99.5,99.5, 99.5,99.5,99.5, 99,99,98.5,98.5, 98.5,98.5,98.5, 99,99,99,99,99,98.5,99,99,99.5,99.5];
const occurs_1000_stripesLo = [49,49,49,49,49, 49,49.5,50, 50.5,51.5,53,55,58,61,64,67, 70,72.5,75,78, 78.5,79,79,79,79.5,79.5, 80,80.5,80.5, 81,82,83,83, 82.5,82,82, 83,84,83.5,83,83.5,83,82.5,82,80,79];
const occurs_1000_stripesHi = [51,51,51,51,51, 51,53,56, 59,62,67,75,84,91,95,97.5, 99,100,100.5,101, 100,99.5,99.5,99.5,99,99, 98.5,98.5,98.5, 98,98,97.5,97.5, 97.5,97.5,97.5, 97.5,97.5,97.5,97.5,97.5,97.5,97.5,97.5,98,98.5];

// task = occurs, train_size = 5000
const occurs_5000_train = [51,51,51,51,51, 51,51,51, 51,51,51.5,56.5,63.5,71,79,83.5, 86,87.5,88,88.5, 88.5,88,87.5,86,88,89, 89.5,89.5,89.5, 91,91.5,92,92, 92.5,92.5,92.5, 93,93,93.5,93.5,94,94,94,94.5,94.5,94.5];
const occurs_5000_hexos = [52,52,52,52,52, 52,52,52, 52,52,52,56,63.5,72,80.5,86, 90.5,92.5,93,93.5, 93.5,93.5,93.5,94,94,94.5, 94.5,94.5,95, 95.5,96,96.5,96.5, 96.5,96.5,96.5, 97.5,98.5,98.5,98.5,98.5,98.5,98.5,98.5,98.5,98.5];
const occurs_5000_pentos = [50,50,50,50,50, 50,50,50, 50,50,50.5,55.5,62.5,70,77.5,82.5, 85.5,87,88,88.5, 88.5,88.5,88.5,88.5,89,89, 89.5,89.5,89.5, 90.5,91,91.5,92, 92,92,92, 92.5,93,93,93.5,93.5,93.5,94,94,94,94];
const occurs_5000_val = [50,50,50,50,50, 50,50,50, 50,50,51,56,63,70.5,78,83, 85.5,87,88,88.5, 88.5,88.5,88.5,88.5,89,89, 89.5,89.5,89.5, 90.5,91,91.5,91.5, 92,92,92, 92.5,93,93,93.5,94,94,94,94.5,94.5,94];
const occurs_5000_stripes = [51.5,51.5,51.5,51.5,51.5, 51.5,51.5,51.5, 51.5,51.5,51.5,56,63,71,78.5,84, 86,87.5,88,88.5, 88.5,88,87.5,87.5,88,89, 90,90.5,91, 93,94,95,95.5, 95.5,95.5,95.5, 96,98,98,98,98,98,98,98,98,98];
const occurs_5000_testLo = [49.5,49.5,49.5,49.5,49.5, 49.5,49.5,49.5, 49.5,49.5,49,50,56,62,68,73, 77,80,81,82, 82,82,82,81.5,82,83, 84,84.5,85, 86.5,87.5,88,89, 89,89,89, 90.5,91,91.5,92,92,92,92,92,92,91];
const occurs_5000_testHi = [52.5,52.5,52.5,52.5,52.5, 52.5,52.5,52.5, 52.5,52.5,53,62,72,82,90,95.5, 98,100,101,100.5, 100,99.5,99.5,99.5,99.5,99.5, 99.5,99.5,99.5, 99,98.5,98.5,99, 99,99,99, 99.5,100,100,99.5,99.5,99.5,99.5,99.5,99.5,99.5];
const occurs_5000_stripesLo = [51,51,51,51,51, 51,51,51, 51,51,51,54,58,63,68,70, 72,74,73,70, 67,68,70,72,75,80, 83,84.5,86, 88,90,92,93, 93,93,93, 94.5,96.5,96.5,96.5,96.5,96.5,96.5,96.5,96.5,96.5];
const occurs_5000_stripesHi = [52,52,52,52,52, 52,52,52, 52,52,52.5,60,70,80,90,98, 101.5,103.5,103,102, 101,100.5,100,100,100,100, 100,100,100, 99.5,99.5,99.5,99.5, 99.5,99.5,99.5, 99.5,99.5,99.5,99.5,99.5,99.5,99.5,99.5,99.5,99.5];

// ---------- panels (row = task, column = train size) ----------
const PANELS = [
  {t:0,s:0, mean:[between_100_train,between_100_hexos,between_100_pentos,between_100_val,between_100_stripes], train:[between_100_trainLo,between_100_trainHi], test:[between_100_testLo,between_100_testHi], stripes:[between_100_stripesLo,between_100_stripesHi]},
  {t:0,s:1, mean:[between_1000_train,between_1000_hexos,between_1000_pentos,between_1000_val,between_1000_stripes], train:[between_1000_testLo,between_1000_testHi], test:[between_1000_testLo,between_1000_testHi]},
  {t:0,s:2, mean:[between_5000_train,between_5000_hexos,between_5000_pentos,between_5000_val,between_5000_stripes], train:[between_5000_testLo,between_5000_testHi], test:[between_5000_testLo,between_5000_testHi]},
  {t:1,s:0, mean:[xoccurs_100_train,xoccurs_100_hexos,xoccurs_100_pentos,xoccurs_100_val,xoccurs_100_stripes], train:[xoccurs_100_trainLo,xoccurs_100_trainHi], test:[xoccurs_100_testLo,xoccurs_100_testHi]},
  {t:1,s:1, mean:[xoccurs_1000_train,xoccurs_1000_hexos,xoccurs_1000_pentos,xoccurs_1000_val,xoccurs_1000_stripes], train:[xoccurs_1000_trainLo,xoccurs_1000_trainHi], test:[xoccurs_1000_testLo,xoccurs_1000_testHi]},
  {t:1,s:2, mean:[xoccurs_5000_train,xoccurs_5000_hexos,xoccurs_5000_pentos,xoccurs_5000_val,xoccurs_5000_stripes], train:[xoccurs_5000_testLo,xoccurs_5000_testHi], test:[xoccurs_5000_testLo,xoccurs_5000_testHi]},
  {t:2,s:0, mean:[same_100_train,same_100_hexos,same_100_pentos,same_100_val,same_100_stripes], train:[same_100_trainLo,same_100_trainHi], test:[same_100_testLo,same_100_testHi], stripes:[same_100_stripesLo,same_100_stripesHi]},
  {t:2,s:1, mean:[same_1000_train,same_1000_hexos,same_1000_pentos,same_1000_val,same_1000_stripes], train:[same_1000_testLo,same_1000_testHi], test:[same_1000_testLo,same_1000_testHi]},
  {t:2,s:2, mean:[same_5000_train,same_5000_hexos,same_5000_pentos,same_5000_val,same_5000_stripes], train:[same_5000_testLo,same_5000_testHi], test:[same_5000_testLo,same_5000_testHi]},
  {t:3,s:0, mean:[all_100_train,all_100_hexos,all_100_pentos,all_100_val,all_100_stripes], train:[all_100_trainLo,all_100_trainHi], test:[all_100_testLo,all_100_testHi]},
  {t:3,s:1, mean:[all_1000_train,all_1000_hexos,all_1000_pentos,all_1000_val,all_1000_stripes], train:[all_1000_testLo,all_1000_testHi], test:[all_1000_testLo,all_1000_testHi]},
  {t:3,s:2, mean:[all_5000_train,all_5000_hexos,all_5000_pentos,all_5000_val,all_5000_stripes], train:[all_5000_testLo,all_5000_testHi], test:[all_5000_testLo,all_5000_testHi]},
  {t:4,s:0, mean:[occurs_100_train,occurs_100_hexos,occurs_100_pentos,occurs_100_val,occurs_100_stripes], train:[occurs_100_trainLo,occurs_100_trainHi], test:[occurs_100_testLo,occurs_100_testHi], stripes:[occurs_100_stripesLo,occurs_100_stripesHi]},
  {t:4,s:1, mean:[occurs_1000_train,occurs_1000_hexos,occurs_1000_pentos,occurs_1000_val,occurs_1000_stripes], train:[occurs_1000_testLo,occurs_1000_testHi], test:[occurs_1000_testLo,occurs_1000_testHi], stripes:[occurs_1000_stripesLo,occurs_1000_stripesHi]},
  {t:4,s:2, mean:[occurs_5000_train,occurs_5000_hexos,occurs_5000_pentos,occurs_5000_val,occurs_5000_stripes], train:[occurs_5000_testLo,occurs_5000_testHi], test:[occurs_5000_testLo,occurs_5000_testHi], stripes:[occurs_5000_stripesLo,occurs_5000_stripesHi]}
];

// ---------- layout / style ----------
const FONT = 'DejaVu Sans';
const TXT = '#262626';
const FS = 5.8;
const GL0 = 26.5, GDX = 216.1, GW = 208, GT0 = 13, GDY = 220.2, GH = 201;
const XMIN = -7.45, XMAX = 156.45, YMIN = 0.3614, YMAX = 1.1375;
const BAND_ALPHA = 0.22;

function rgba(hex, a) {
  const n = parseInt(hex.slice(1), 16);
  return 'rgba(' + (n >> 16 & 255) + ',' + (n >> 8 & 255) + ',' + (n & 255) + ',' + a + ')';
}

const grids = [], xAxes = [], yAxes = [], bandSeries = [], lineSeries = [], graphics = [];
const bad = [];

PANELS.forEach((p, g) => {
  const r = p.t, c = p.s;
  const left = GL0 + GDX * c, top = GT0 + GDY * r;
  grids.push({ left: left, top: top, width: GW, height: GH });
  const axLine = { show: true, onZero: false, lineStyle: { color: TXT, width: 0.8 } };
  xAxes.push({
    type: 'value', gridIndex: g, min: XMIN, max: XMAX,
    axisLine: axLine, splitLine: { show: false },
    axisTick: { show: true, length: 3, lineStyle: { color: TXT, width: 0.8 }, customValues: X_TICKS },
    axisLabel: { show: r === 4, customValues: X_TICKS, fontSize: FS, color: TXT, fontFamily: FONT, margin: 2.5 },
    name: r === 4 ? 'epoch' : '', nameLocation: 'middle', nameGap: 12,
    nameTextStyle: { fontSize: FS, color: TXT, fontFamily: FONT }
  });
  yAxes.push({
    type: 'value', gridIndex: g, min: YMIN, max: YMAX,
    axisLine: axLine, splitLine: { show: false },
    axisTick: { show: true, length: 3, lineStyle: { color: TXT, width: 0.8 }, customValues: Y_TICKS },
    axisLabel: { show: c === 0, customValues: Y_TICKS, fontSize: FS, color: TXT, fontFamily: FONT, margin: 2.8,
                 formatter: v => Number(v).toFixed(1) },
    name: c === 0 ? 'value' : '', nameLocation: 'middle', nameGap: 16.5,
    nameTextStyle: { fontSize: FS, color: TXT, fontFamily: FONT }
  });
  graphics.push({
    type: 'text', x: left + GW / 2, y: top - 6.5, silent: true,
    style: { text: 'task = ' + TASKS[r] + ' | train_size = ' + TRAIN_SIZES[c],
             font: FS + 'px "' + FONT + '"', fill: TXT,
             align: 'center', verticalAlign: 'middle', textAlign: 'center', textVerticalAlign: 'middle' }
  });

  const arrs = [...p.mean, ...p.train, ...p.test, ...(p.stripes || [])];
  arrs.forEach((a, j) => { if (a.length !== EPOCHS.length) bad.push(TASKS[r] + TRAIN_SIZES[c] + '#' + j + ':' + a.length); });

  const bands = [
    [p.train, COLORS[0]], [p.test, COLORS[1]], [p.test, COLORS[2]], [p.test, COLORS[3]], [p.stripes || p.test, COLORS[4]]
  ];
  bands.forEach(([b, col]) => {
    const data = EPOCHS.map((e, i) => [e, b[0][i] / 100, b[1][i] / 100]);
    bandSeries.push({
      type: 'custom', xAxisIndex: g, yAxisIndex: g, silent: true, z: 1, clip: true,
      data: data, encode: { x: 0, y: [1, 2] },
      renderItem: function (params, api) {
        if (params.dataIndex !== 0) return null;
        const pts = [];
        for (let i = 0; i < data.length; i++) pts.push(api.coord([data[i][0], data[i][2]]));
        for (let i = data.length - 1; i >= 0; i--) pts.push(api.coord([data[i][0], data[i][1]]));
        return { type: 'polygon', shape: { points: pts }, style: { fill: rgba(col, BAND_ALPHA) } };
      }
    });
  });
  p.mean.forEach((m, k) => {
    lineSeries.push({
      type: 'line', name: VARIABLES[k], xAxisIndex: g, yAxisIndex: g, z: 2,
      data: EPOCHS.map((e, i) => [e, m[i] / 100]),
      showSymbol: false, symbol: 'none', silent: true, color: COLORS[k],
      lineStyle: { width: 1.1, color: COLORS[k] }, clip: true
    });
  });
});

graphics.push({
  type: 'text', x: 707, y: 536, silent: true,
  style: { text: 'variable', font: FS + 'px "' + FONT + '"', fill: TXT,
           align: 'center', verticalAlign: 'middle', textAlign: 'center', textVerticalAlign: 'middle' }
});
if (bad.length) {
  graphics.push({ type: 'text', x: 660, y: 300, style: { text: bad.join('\n'), font: '9px sans-serif', fill: 'red' } });
}

const chart = echarts.init(document.getElementById('c'), null, { renderer: 'canvas' });
chart.setOption({
  animation: false,
  backgroundColor: '#ffffff',
  textStyle: { fontFamily: FONT },
  grid: grids, xAxis: xAxes, yAxis: yAxes,
  legend: {
    data: VARIABLES, orient: 'vertical', left: 673, top: 541.5, padding: 0,
    icon: 'rect', itemWidth: 14, itemHeight: 1.5, itemGap: 2.3, selectedMode: false,
    textStyle: { fontSize: FS, color: TXT, fontFamily: FONT, lineHeight: 7 }
  },
  graphic: graphics,
  series: [...bandSeries, ...lineSeries]
});
</script>
</body></html>
